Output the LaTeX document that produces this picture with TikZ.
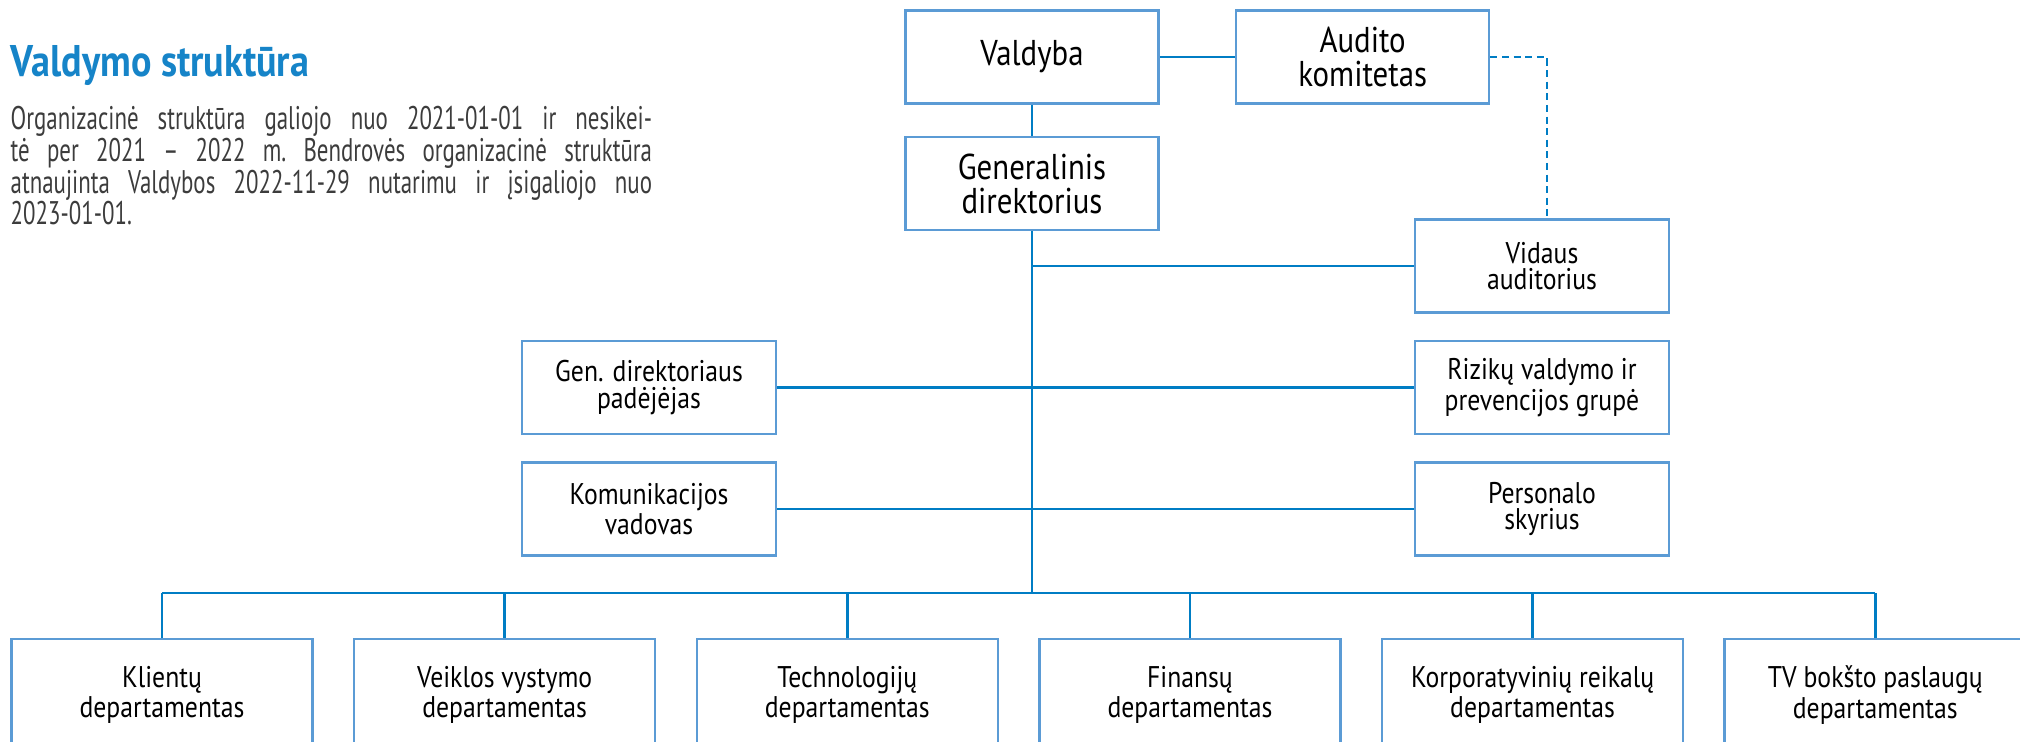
\documentclass[tikz,border=0pt]{standalone}
\usepackage{fontspec}
\setmainfont{PT Sans}[FakeStretch=0.86]
\newfontfamily\notefont{PT Sans}[FakeStretch=0.7]
\usetikzlibrary{positioning}
\definecolor{vbblue}{RGB}{0,125,196}
\definecolor{vbframe}{RGB}{91,155,213}
\definecolor{vbtitle}{RGB}{22,132,200}
\definecolor{vbgray}{RGB}{60,60,60}

\begin{document}
\begin{tikzpicture}[x=0.01cm, y=-0.01cm,
  unit/.style={draw=vbframe, line width=0.7pt, minimum width=2.53cm, minimum height=0.93cm,
    inner sep=0pt, align=center, font=\fontsize{8.5}{7.4}\selectfont},
  topunit/.style={unit, font=\fontsize{10.2}{9.7}\selectfont},
  sideunit/.style={unit, minimum width=2.54cm},
  dept/.style={unit, minimum width=3.01cm, minimum height=1.12cm},
  link/.style={vbblue, line width=0.7pt}]
\clip (0,0) rectangle (2020,742);

% Heading and note
\node[anchor=base west, inner sep=0pt, vbtitle, font=\fontsize{12.6}{14}\selectfont\bfseries] (title) at (10,76) {Valdymo struktūra};
\node[anchor=north west, inner sep=0pt, vbgray, text width=6.41cm, align=justify,
  font=\notefont\fontsize{9.3}{9}\selectfont] (note) at (10,106) {\frenchspacing\hyphenpenalty=10000\relax
Organizacinė struktūra galiojo nuo 2021-01-01 ir nesikei-\linebreak
tė per 2021 – 2022 m. Bendrovės organizacinė struktūra\linebreak
atnaujinta Valdybos 2022-11-29 nutarimu ir įsigaliojo nuo\linebreak
2023-01-01.};

% Board and director
\node[topunit] (valdyba) at (1032,57) {Valdyba};
\node[topunit, right=0.75cm of valdyba] (audito) {Audito\\komitetas};
\node[topunit, below=0.31cm of valdyba] (generalinis) {Generalinis\\direktorius};

% Units beside the director
\node[sideunit] (vidaus) at (1542,266) {Vidaus\\auditorius};
\node[sideunit, below=0.26cm of vidaus] (rizikos) {Rizikų valdymo ir\\prevencijos grupė};
\node[sideunit, below=0.26cm of rizikos] (personalo) {Personalo\\skyrius};
\node[sideunit, left=6.36cm of rizikos] (padejejas) {Gen. direktoriaus\\padėjėjas};
\node[sideunit, left=6.36cm of personalo] (komunikacijos) {Komunikacijos\\vadovas};

% Departments
\node[dept] (klientu) at (162,695) {Klientų\\departamentas};
\node[dept, right=0.39cm of klientu] (veiklos) {Veiklos vystymo\\departamentas};
\node[dept, right=0.39cm of veiklos] (technologiju) {Technologijų\\departamentas};
\node[dept, right=0.39cm of technologiju] (finansu) {Finansų\\departamentas};
\node[dept, right=0.39cm of finansu] (korporatyviniu) {Korporatyvinių reikalų\\departamentas};
\node[dept, right=0.39cm of korporatyviniu] (tvbokstas) {TV bokšto paslaugų\\departamentas};
\coordinate (bus) at (0,593);

% Links
\draw[link] (valdyba.east) -- (audito.west);
\draw[link] (valdyba.south) -- (generalinis.north);
\draw[link, dash pattern=on 2pt off 1.3pt] (audito.east) -| ([xshift=0.05cm]vidaus.north);
\draw[link] (generalinis.south) -- (generalinis.south |- bus);
\draw[link] (vidaus.west) -- (vidaus.west -| generalinis.south);
\draw[link] (padejejas.east) -- (rizikos.west);
\draw[link] (komunikacijos.east) -- (personalo.west);
\draw[link] (klientu.north |- bus) -- (tvbokstas.north |- bus);
\foreach \d in {klientu,veiklos,technologiju,finansu,korporatyviniu,tvbokstas}
  \draw[link] (\d.north) -- (\d.north |- bus);
\end{tikzpicture}
\end{document}
